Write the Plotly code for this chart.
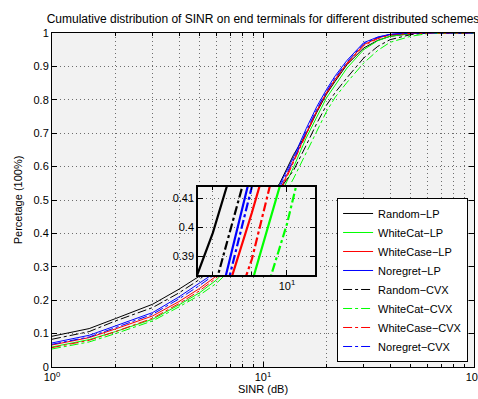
import plotly.graph_objects as go

# SINR sample points (dB axis shown in log scale)
sinr = [1, 1.5, 2, 3, 4, 5, 6, 7, 8, 9, 10, 11, 12, 14, 16, 18, 20, 22, 25, 30, 35, 40, 50, 60, 80, 100]

random_lp = [0.092, 0.115, 0.145, 0.188, 0.233, 0.272, 0.318, 0.357, 0.398, 0.443, 0.483, 0.519, 0.55, 0.637, 0.697, 0.763, 0.817, 0.856, 0.905, 0.955, 0.978, 0.99, 0.998, 1, 1, 1]
whitecat_lp = [0.060, 0.082, 0.106, 0.143, 0.186, 0.222, 0.26, 0.303, 0.344, 0.381, 0.4225, 0.465, 0.51, 0.60, 0.685, 0.751, 0.806, 0.844, 0.895, 0.95, 0.977, 0.99, 0.998, 1, 1, 1]
whitecase_lp = [0.066, 0.088, 0.114, 0.153, 0.196, 0.235, 0.272, 0.319, 0.362, 0.405, 0.45, 0.491, 0.528, 0.62, 0.70, 0.768, 0.822, 0.862, 0.91, 0.965, 0.985, 0.995, 0.999, 1, 1, 1]
noregret_lp = [0.072, 0.095, 0.123, 0.163, 0.21, 0.25, 0.285, 0.328, 0.365, 0.42, 0.467, 0.508, 0.546, 0.63, 0.713, 0.78, 0.831, 0.872, 0.918, 0.971, 0.988, 0.996, 1, 1, 1, 1]
random_cvx = [0.083, 0.106, 0.138, 0.178, 0.222, 0.262, 0.306, 0.344, 0.377, 0.426, 0.463, 0.499, 0.532, 0.59, 0.663, 0.73, 0.784, 0.822, 0.866, 0.925, 0.96, 0.98, 0.995, 1, 1, 1]
whitecat_cvx = [0.054, 0.075, 0.10, 0.138, 0.18, 0.215, 0.25, 0.29, 0.33, 0.362, 0.401, 0.446, 0.489, 0.566, 0.638, 0.706, 0.765, 0.808, 0.852, 0.91, 0.948, 0.972, 0.99, 0.998, 1, 1]
whitecase_cvx = [0.058, 0.08, 0.106, 0.146, 0.19, 0.228, 0.266, 0.31, 0.35, 0.389, 0.438, 0.48, 0.52, 0.615, 0.697, 0.766, 0.82, 0.86, 0.907, 0.962, 0.983, 0.994, 0.999, 1, 1, 1]
noregret_cvx = [0.068, 0.09, 0.118, 0.158, 0.204, 0.244, 0.28, 0.322, 0.36, 0.414, 0.46, 0.50, 0.538, 0.622, 0.705, 0.772, 0.825, 0.866, 0.913, 0.968, 0.987, 0.996, 1, 1, 1, 1]

names = ["Random\u2212LP", "WhiteCat\u2212LP", "WhiteCase\u2212LP", "Noregret\u2212LP",
         "Random\u2212CVX", "WhiteCat\u2212CVX", "WhiteCase\u2212CVX", "Noregret\u2212CVX"]
series = [random_lp, whitecat_lp, whitecase_lp, noregret_lp,
          random_cvx, whitecat_cvx, whitecase_cvx, noregret_cvx]
colors = ["#000000", "#00ff00", "#ff0000", "#0000ff"] * 2
dashes = ["solid"] * 4 + ["dashdot"] * 4

x_major = [1, 10, 100]
x_major_text = ["10<sup>0</sup>", "10<sup>1</sup>", "10<sup>2</sup>"]
x_minor = [2, 3, 4, 5, 6, 7, 8, 9, 20, 30, 40, 50, 60, 70, 80, 90]
y_ticks = [0, 0.1, 0.2, 0.3, 0.4, 0.5, 0.6, 0.7, 0.8, 0.9, 1]
y_text = ["0", "0.1", "0.2", "0.3", "0.4", "0.5", "0.6", "0.7", "0.8", "0.9", "1"]
inset_y_ticks = [0.39, 0.40, 0.41]
inset_y_text = ["0.39", "0.4", "0.41"]
inset_x_minor = [8, 9]

FONT = "Liberation Sans, Arial, Helvetica, sans-serif"
GRID = "rgba(0,0,0,0.55)"
GDASH = "1px,3px"

fig = go.Figure()
for n, s, c, d in zip(names, series, colors, dashes):
    fig.add_trace(go.Scatter(x=sinr, y=s, mode="lines", name=n,
                             line=dict(color=c, width=1, dash=d),
                             xaxis="x", yaxis="y"))
for n, s, c, d in zip(names, series, colors, dashes):
    fig.add_trace(go.Scatter(x=sinr, y=s, mode="lines", name=n, showlegend=False,
                             line=dict(color=c, width=2.2, dash=d),
                             xaxis="x2", yaxis="y2"))

axis_common = dict(showline=True, linecolor="black", mirror="allticks",
                   ticks="inside", tickcolor="black", zeroline=False, automargin=False,
                   tickfont=dict(family=FONT, size=11, color="black"))

fig.update_layout(
    width=478, height=399,
    margin=dict(l=52, r=4, t=33, b=32),
    paper_bgcolor="white",
    plot_bgcolor="#f2f2f2",
    font=dict(family=FONT, size=11, color="black"),
    title=dict(text="Cumulative distribution of SINR on end terminals for different distributed schemes",
               x=0.5, xref="paper", xanchor="center", y=1 - 19 / 399, yref="container", yanchor="middle",
               font=dict(family=FONT, size=12, color="black")),
    xaxis=dict(type="log", range=[0, 2], domain=[0, 1],
               tickmode="array", tickvals=x_major, ticktext=x_major_text, ticklen=5,
               ticklabeloverflow="allow",
               showgrid=True, gridcolor=GRID, griddash=GDASH, gridwidth=1,
               minor=dict(tickmode="array", tickvals=x_minor, ticks="inside", ticklen=3,
                          tickcolor="black", showgrid=True, gridcolor=GRID, griddash=GDASH, gridwidth=1),
               title=dict(text="SINR (dB)", standoff=2, font=dict(family=FONT, size=11)),
               **axis_common),
    yaxis=dict(range=[0, 1], domain=[0, 1],
               tickmode="array", tickvals=y_ticks, ticktext=y_text, ticklen=5,
               showgrid=True, gridcolor=GRID, griddash=GDASH, gridwidth=1,
               title=dict(text="Percetage (100%)", standoff=8, font=dict(family=FONT, size=11)),
               **axis_common),
    xaxis2=dict(type="log", range=[0.8837, 1.0366], domain=[0.346, 0.623], anchor="y2",
                tickmode="array", tickvals=[10], ticktext=["10<sup>1</sup>"], ticklen=5,
                showgrid=True, gridcolor=GRID, griddash=GDASH, gridwidth=1,
                minor=dict(tickmode="array", tickvals=inset_x_minor, ticks="inside", ticklen=3,
                           tickcolor="black", showgrid=True, gridcolor=GRID, griddash=GDASH, gridwidth=1),
                linewidth=1.5, **axis_common),
    yaxis2=dict(range=[0.3835, 0.4138], domain=[0.2754, 0.539], anchor="x2",
                tickmode="array", tickvals=inset_y_ticks, ticktext=inset_y_text, ticklen=5,
                showgrid=True, gridcolor=GRID, griddash=GDASH, gridwidth=1,
                linewidth=1.5, **axis_common),
    legend=dict(x=0.986, y=0.015, xanchor="right", yanchor="bottom",
                bgcolor="white", bordercolor="black", borderwidth=1,
                font=dict(family=FONT, size=11, color="black"),
                tracegroupgap=0, itemwidth=30),
    showlegend=True,
)

fig.add_shape(type="rect", xref="x2 domain", yref="y2 domain", x0=0, x1=1, y0=0, y1=1,
              fillcolor="white", line=dict(width=0), layer="below")

fig.write_html("out.html", config={"displayModeBar": False},
               post_script="document.body.style.margin='0';document.body.style.padding='0';")
